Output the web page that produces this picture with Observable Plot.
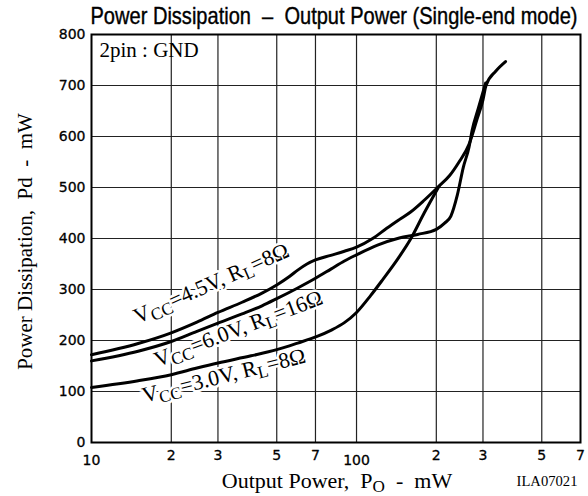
<!DOCTYPE html>
<html>
<head>
<meta charset="utf-8">
<script src="https://cdn.jsdelivr.net/npm/d3@7"></script>
<script src="https://cdn.jsdelivr.net/npm/@observablehq/plot@0.6"></script>
<style>
  html, body { margin: 0; padding: 0; background: #fff; }
  #chart { width: 588px; height: 496px; }
</style>
</head>
<body>
<div id="chart"></div>
<script>
// ---- Data ----
const x45 = [10, 15, 20, 25, 30, 37, 44, 50, 56, 60, 65, 70, 80, 90, 100, 115, 130, 145, 160, 180, 205, 225, 243, 266, 285, 300, 308, 335, 365];
const y45 = [172, 194, 215, 236, 255, 275, 293, 309, 326, 338, 350, 358, 367, 375, 383, 400, 420, 437, 452, 475, 503, 524, 549, 585, 634, 672, 700, 728, 747];

const x60 = [10, 15, 20, 25, 30, 37, 44, 50, 60, 70, 80, 90, 100, 120, 145, 170, 200, 215, 227, 240, 253, 266, 273, 288, 307];
const y60 = [160, 179, 198, 218, 234, 252, 268, 282, 303, 322, 340, 356, 368, 387, 401, 408, 418, 430, 444, 485, 540, 580, 612, 655, 705];

const x30 = [10, 15, 20, 25, 30, 40, 50, 60, 71, 80, 90, 100, 113, 125, 144, 160, 180, 205];
const y30 = [108, 121, 133, 146, 156, 170, 182, 195, 208, 220, 235, 255, 288, 318, 362, 399, 450, 503];

const seriesNames = ["4.5V 8Ω", "6.0V 16Ω", "3.0V 8Ω"];

// curve labels ({..} = subscript)
const labelText = ["V{CC}=4.5V, R{L}=8Ω", "V{CC}=6.0V, R{L}=16Ω", "V{CC}=3.0V, R{L}=8Ω"];
const labelX = [28.3, 35.8, 31.6];
const labelY = [312, 223, 131];
const labelAngle = [-24, -21, -14];

// axes
const yTicks = [0, 100, 200, 300, 400, 500, 600, 700, 800];
const yGrid = [100, 200, 300, 400, 500, 600, 700];
const xGrid = [20, 30, 50, 70, 100, 200, 300, 500];
const xMinorTicks = [20, 30, 50, 70, 200, 300, 500, 700];
const xMinorLabels = ["2", "3", "5", "7", "2", "3", "5", "7"];
const xDecadeTicks = [10, 100];
const xDecadeLabels = ["10", "100"];

const titleText = "Power Dissipation\u00a0 \u2013\u00a0 Output Power (Single-end mode)";
const yTitle = "Power Dissipation,\u00a0 Pd\u00a0 -\u00a0 mW";
const xTitle = "Output Power,\u00a0 P{O}\u00a0 -\u00a0 mW";
const noteText = "2pin : GND";
const codeText = "ILA07021";

// ---- Build table ----
const rows = [
  ...x45.map((x, i) => ({s: seriesNames[0], x, y: y45[i]})),
  ...x60.map((x, i) => ({s: seriesNames[1], x, y: y60[i]})),
  ...x30.map((x, i) => ({s: seriesNames[2], x, y: y30[i]}))
];
const labels = labelText.map((t, i) => ({t, x: labelX[i], y: labelY[i], a: labelAngle[i]}));

const serif = "Liberation Serif, Times New Roman, serif";
const sans = "DejaVu Sans, sans-serif";

const svg = Plot.plot({
  width: 588,
  height: 496,
  marginLeft: 91,
  marginRight: 8,
  marginTop: 34,
  marginBottom: 54,
  style: {fontFamily: sans, fontSize: "14px", background: "#fff", color: "#000"},
  x: {type: "log", domain: [10, 700], axis: null},
  y: {domain: [0, 800], axis: null},
  marks: [
    Plot.ruleX(xGrid, {x: d => d, stroke: "#222", strokeWidth: 1.2}),
    Plot.ruleY(yGrid, {y: d => d, stroke: "#222", strokeWidth: 1.2}),
    Plot.frame({stroke: "#000", strokeWidth: 2}),
    Plot.line(rows, {x: "x", y: "y", z: "s", stroke: "#000", strokeWidth: 3, curve: "monotone-x", strokeLinecap: "round"}),
    Plot.text(labels, {x: "x", y: "y", text: "t", rotate: "a", fontFamily: serif, fontSize: 22,
      fill: "#000", stroke: "#fff", strokeWidth: 5, textAnchor: "middle", lineAnchor: "middle"}),
    // y tick labels
    Plot.text(yTicks, {y: d => d, text: d => String(d), frameAnchor: "left", dx: -6, textAnchor: "end",
      lineAnchor: "middle", fontSize: 14, fontFamily: sans, fill: "#000", stroke: "#000", strokeWidth: 0.3}),
    // x tick labels
    Plot.text(xMinorTicks, {x: d => d, text: (d, i) => xMinorLabels[i], frameAnchor: "bottom", dy: 13,
      textAnchor: "middle", lineAnchor: "middle", fontSize: 14, fontFamily: sans, fill: "#000", stroke: "#000", strokeWidth: 0.3}),
    Plot.text(xDecadeTicks, {x: d => d, text: (d, i) => xDecadeLabels[i], frameAnchor: "bottom", dy: 18,
      textAnchor: "middle", lineAnchor: "middle", fontSize: 14, fontFamily: sans, fill: "#000", stroke: "#000", strokeWidth: 0.3}),
    // titles
    Plot.text([titleText], {text: d => d, frameAnchor: "top", dx: -2, dy: -11, textAnchor: "middle", lineAnchor: "bottom",
      fontSize: 24, fontFamily: "Liberation Sans Narrow, Arial Narrow, Liberation Sans, sans-serif",
      fill: "#000", stroke: "#000", strokeWidth: 0.4}),
    Plot.text([yTitle], {text: d => d, frameAnchor: "left", dx: -66, dy: 3, rotate: -90, textAnchor: "middle",
      lineAnchor: "middle", fontSize: 21, fontFamily: serif, fill: "#000"}),
    Plot.text([xTitle], {text: d => d, frameAnchor: "bottom", dx: 1, dy: 45, textAnchor: "middle", lineAnchor: "bottom",
      fontSize: 22, fontFamily: serif, fill: "#000"}),
    Plot.text([codeText], {text: d => d, frameAnchor: "bottom-right", dx: -3, dy: 43, textAnchor: "end",
      lineAnchor: "bottom", fontSize: 14, fontFamily: serif, fill: "#000"}),
    Plot.text([noteText], {text: d => d, frameAnchor: "top-left", dx: 8, dy: 22, textAnchor: "start",
      lineAnchor: "bottom", fontSize: 21, fontFamily: serif, fill: "#000"})
  ]
});

// subscripts and text fitting
const NS = "http://www.w3.org/2000/svg";
d3.select(svg).selectAll("text").each(function () {
  const t = this.textContent;
  if (t === titleText) {
    this.setAttribute("textLength", 487);
    this.setAttribute("lengthAdjust", "spacingAndGlyphs");
  }
  if (t === codeText) {
    this.setAttribute("textLength", 61);
    this.setAttribute("lengthAdjust", "spacingAndGlyphs");
  }
  if (!t.includes("{")) return;
  const parts = t.split(/(\{[^}]*\})/).filter(p => p);
  this.textContent = "";
  const ratio = 0.78, shift = 0.24;
  let shifted = false;
  for (const p of parts) {
    const ts = document.createElementNS(NS, "tspan");
    if (p.startsWith("{")) {
      ts.textContent = p.slice(1, -1);
      ts.setAttribute("font-size", (ratio * 100) + "%");
      ts.setAttribute("dy", shift + "em");
      shifted = true;
    } else {
      ts.textContent = p;
      if (shifted) { ts.setAttribute("dy", (-shift * ratio) + "em"); shifted = false; }
    }
    this.appendChild(ts);
  }
});

document.getElementById("chart").appendChild(svg);
</script>
</body>
</html>
